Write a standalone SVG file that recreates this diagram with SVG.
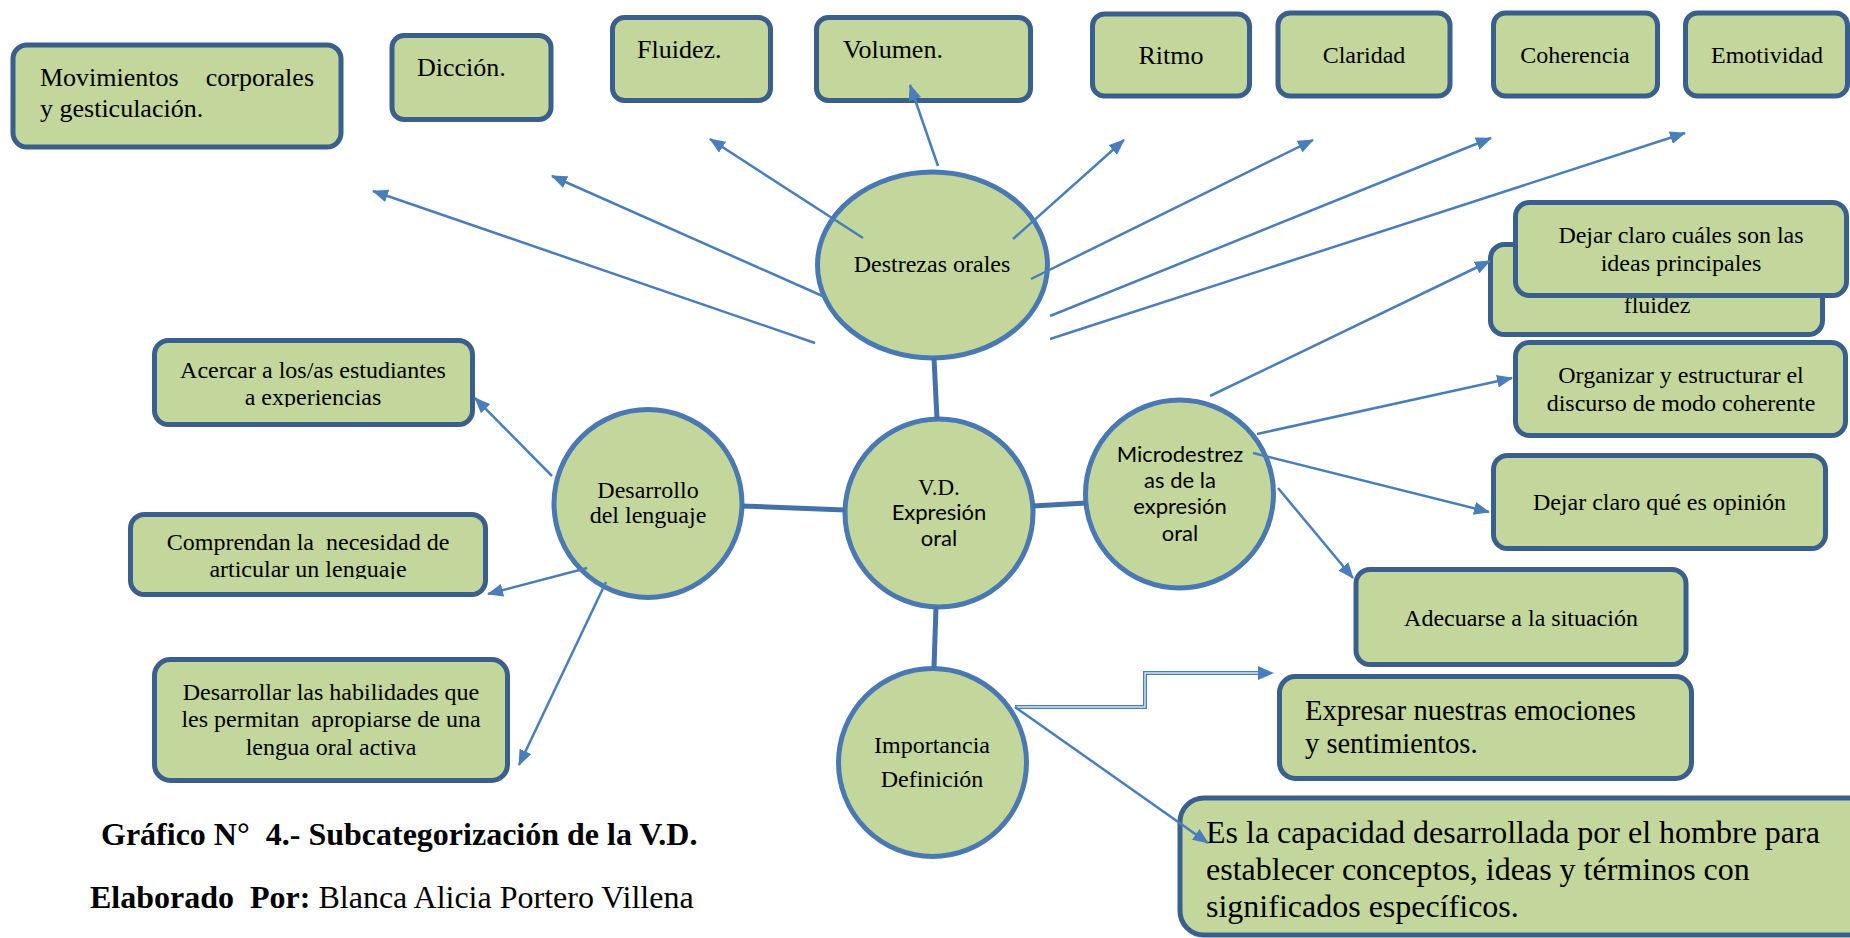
<svg xmlns="http://www.w3.org/2000/svg" width="1850" height="938" viewBox="0 0 1850 938">
<style>
.box{fill:#c3d69b;stroke:#3b5f8d;stroke-width:5}
.circ{fill:#c3d69b;stroke:#4a78b3;stroke-width:5}
.t{font-family:"Liberation Serif","Times New Roman",serif;fill:#000}
.s{font-family:Lato,"Liberation Sans",sans-serif;fill:#000}
.c{text-anchor:middle}
.arr{stroke:#4a7ebb;stroke-width:2.5;fill:none;marker-end:url(#ah)}
.thick{stroke:#4670aa;stroke-width:5;fill:none}
</style>
<defs>
<marker id="ah" markerUnits="userSpaceOnUse" viewBox="0 0 16 13" markerWidth="16" markerHeight="13" refX="15" refY="6.5" orient="auto">
<path d="M0,0 L16,6.5 L0,13 z" fill="#4a7ebb"/>
</marker>
<clipPath id="clipA"><rect x="150" y="340" width="330" height="67"/></clipPath>
<clipPath id="clipC"><rect x="128" y="514" width="360" height="65"/></clipPath>
</defs>
<rect width="1850" height="938" fill="#fff"/>

<g id="node-movimientos">
<rect class="box" x="13" y="45" width="328" height="102" rx="14"/>
<text class="t" font-size="26" x="40" y="86">Movimientos</text>
<text class="t" font-size="26" x="314" y="86" text-anchor="end">corporales</text>
<text class="t" font-size="26" x="40" y="117">y gesticulación.</text>
</g>
<g id="node-diccion">
<rect class="box" x="392" y="35.5" width="159" height="84" rx="12"/>
<text class="t" font-size="26" x="417" y="76">Dicción.</text>
</g>
<g id="node-fluidez">
<rect class="box" x="612.5" y="17.5" width="158" height="83" rx="12"/>
<text class="t" font-size="26" x="637" y="58">Fluidez.</text>
</g>
<g id="node-volumen">
<rect class="box" x="816.5" y="17.5" width="214" height="83" rx="12"/>
<text class="t" font-size="26" x="843" y="58">Volumen.</text>
</g>
<g id="node-ritmo">
<rect class="box" x="1092.5" y="14" width="157" height="82" rx="12"/>
<text class="t c" font-size="26" x="1171" y="64">Ritmo</text>
</g>
<g id="node-claridad">
<rect class="box" x="1278" y="13" width="172" height="83" rx="12"/>
<text class="t c" font-size="24" x="1364" y="63">Claridad</text>
</g>
<g id="node-coherencia">
<rect class="box" x="1493.5" y="13" width="164" height="83" rx="12"/>
<text class="t c" font-size="24" x="1575" y="63">Coherencia</text>
</g>
<g id="node-emotividad">
<rect class="box" x="1685.5" y="13" width="162" height="83" rx="12"/>
<text class="t c" font-size="24" x="1767" y="63">Emotividad</text>
</g>

<g id="node-destrezas">
<ellipse class="circ" cx="932.5" cy="265" rx="115" ry="93"/>
<text class="t c" font-size="24" x="932" y="272">Destrezas orales</text>
</g>
<g id="node-vd">
<circle class="circ" cx="939" cy="513" r="94"/>
<text class="t c" font-size="23" x="939" y="495">V.D.</text>
<text class="s c" font-size="22" x="939" y="520">Expresión</text>
<text class="s c" font-size="22" x="939" y="546">oral</text>
</g>
<g id="node-desarrollo">
<circle class="circ" cx="648" cy="503.5" r="94"/>
<text class="t c" font-size="24" x="648" y="498">Desarrollo</text>
<text class="t c" font-size="24" x="648" y="523">del lenguaje</text>
</g>
<g id="node-micro">
<circle class="circ" cx="1179.5" cy="494" r="94"/>
<text class="s c" font-size="22" x="1180" y="462">Microdestrez</text>
<text class="s c" font-size="22" x="1180" y="488">as de la</text>
<text class="s c" font-size="22" x="1180" y="514">expresión</text>
<text class="s c" font-size="22" x="1180" y="541">oral</text>
</g>
<g id="node-importancia">
<circle class="circ" cx="932.5" cy="762.5" r="94"/>
<text class="t c" font-size="24" x="932" y="753">Importancia</text>
<text class="t c" font-size="24" x="932" y="787">Definición</text>
</g>

<g id="node-acercar">
<rect class="box" x="154.5" y="340.5" width="318" height="84" rx="14"/>
<g clip-path="url(#clipA)">
<text class="t c" font-size="24" x="313" y="378">Acercar a los/as estudiantes</text>
<text class="t c" font-size="24" x="313" y="405">a experiencias</text>
</g>
</g>
<g id="node-comprendan">
<rect class="box" x="130.5" y="514.5" width="355" height="80" rx="14"/>
<g clip-path="url(#clipC)">
<text class="t c" font-size="24" x="308" y="550" xml:space="preserve">Comprendan la  necesidad de</text>
<text class="t c" font-size="24" x="308" y="577">articular un lenguaje</text>
</g>
</g>
<g id="node-desarrollar">
<rect class="box" x="154.5" y="659.5" width="353" height="121" rx="16"/>
<text class="t c" font-size="24" x="331" y="700">Desarrollar las habilidades que</text>
<text class="t c" font-size="24" x="331" y="727" xml:space="preserve">les permitan  apropiarse de una</text>
<text class="t c" font-size="24" x="331" y="755">lengua oral activa</text>
</g>

<g id="node-fluidez-back">
<rect class="box" x="1490.5" y="244.5" width="332" height="90" rx="14"/>
<text class="t c" font-size="24" x="1657" y="313">fluidez</text>
</g>
<g id="node-ideas">
<rect class="box" x="1515.5" y="202.5" width="331" height="93" rx="14"/>
<text class="t c" font-size="24" x="1681" y="243">Dejar claro cuáles son las</text>
<text class="t c" font-size="24" x="1681" y="271">ideas principales</text>
</g>
<g id="node-organizar">
<rect class="box" x="1515.5" y="342.5" width="330" height="93" rx="14"/>
<text class="t c" font-size="24" x="1681" y="383">Organizar y estructurar el</text>
<text class="t c" font-size="24" x="1681" y="411">discurso de modo coherente</text>
</g>
<g id="node-opinion">
<rect class="box" x="1493.5" y="455.5" width="332" height="93" rx="14"/>
<text class="t c" font-size="24" x="1659.5" y="510">Dejar claro qué es opinión</text>
</g>
<g id="node-adecuarse">
<rect class="box" x="1356" y="569.5" width="330" height="95" rx="14"/>
<text class="t c" font-size="24" x="1521" y="626">Adecuarse a la situación</text>
</g>
<g id="node-expresar">
<rect class="box" x="1279.5" y="676.5" width="412" height="102" rx="16"/>
<text class="t" font-size="28.5" x="1305" y="720">Expresar nuestras emociones</text>
<text class="t" font-size="28.5" x="1305" y="753">y sentimientos.</text>
</g>
<g id="node-definicion">
<rect class="box" x="1180" y="798" width="700" height="137" rx="24"/>
<text class="t" font-size="32" x="1206" y="843">Es la capacidad desarrollada por el hombre para</text>
<text class="t" font-size="32" x="1206" y="880">establecer conceptos, ideas y términos con</text>
<text class="t" font-size="32" x="1206" y="917">significados específicos.</text>
</g>

<g id="connectors">
<line class="thick" x1="934" y1="358" x2="937" y2="419"/>
<line class="thick" x1="742" y1="506" x2="845" y2="510"/>
<line class="thick" x1="1033" y1="506" x2="1086" y2="503"/>
<line class="thick" x1="936" y1="607" x2="934" y2="668"/>

<line class="arr" x1="815" y1="343" x2="373" y2="191"/>
<line class="arr" x1="827" y1="298" x2="552" y2="176"/>
<line class="arr" x1="863" y1="238" x2="710" y2="139"/>
<line class="arr" x1="938" y1="166" x2="910" y2="85"/>
<line class="arr" x1="1013" y1="239" x2="1124" y2="140"/>
<line class="arr" x1="1031" y1="279" x2="1313" y2="140"/>
<line class="arr" x1="1050" y1="316" x2="1491" y2="138"/>
<line class="arr" x1="1050" y1="339" x2="1685" y2="133"/>

<line class="arr" x1="552" y1="476" x2="475" y2="398"/>
<line class="arr" x1="587" y1="568" x2="488" y2="594"/>
<line class="arr" x1="606" y1="582" x2="519" y2="765"/>

<line class="arr" x1="1210" y1="396" x2="1490" y2="261"/>
<line class="arr" x1="1257" y1="434" x2="1512" y2="378"/>
<line class="arr" x1="1253" y1="453" x2="1489" y2="512"/>
<line class="arr" x1="1278" y1="488" x2="1353" y2="578"/>

<polyline points="1015,707 1145,707 1145,673 1260,673" fill="none" stroke="#4a7ebb" stroke-width="4"/>
<polyline points="1015,707 1145,707 1145,673 1260,673" fill="none" stroke="#dce6f2" stroke-width="1.4"/>
<path d="M1258,666 L1274,673 L1258,680 z" fill="#4a7ebb"/>
<line class="arr" x1="1015" y1="707" x2="1208" y2="843"/>
</g>

<g id="caption">
<text class="t" font-size="32" font-weight="bold" x="101" y="845" xml:space="preserve">Gráfico N°  4.- Subcategorización de la V.D.</text>
<text class="t" font-size="32" x="90" y="908" xml:space="preserve"><tspan font-weight="bold">Elaborado  Por:</tspan> Blanca Alicia Portero Villena</text>
</g>
</svg>
